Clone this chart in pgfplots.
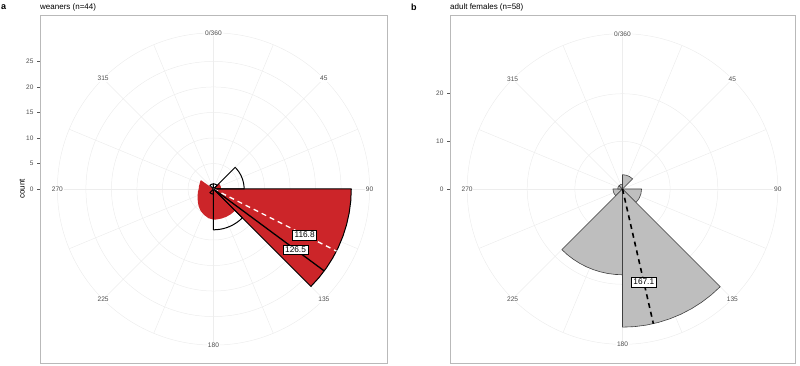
\documentclass[border=0pt]{standalone}
\usepackage{pgfplots}
\pgfplotsset{compat=1.18}
\usepackage{fontspec}
\setmainfont{Liberation Sans}
\definecolor{redfill}{HTML}{CC2529}
\definecolor{greyfill}{HTML}{BEBEBE}
\definecolor{gridc}{HTML}{EDEDED}
\definecolor{txtgrey}{HTML}{4D4D4D}

% polar sector: table of bearing (clockwise from north) and radius (count)
\newcommand\psect[2]{\addplot[#1] table[row sep=\\, x expr={\thisrow{r}*sin(\thisrow{b})}, y expr={\thisrow{r}*cos(\thisrow{b})}] {#2};}
\newcommand\thetalab[3]{\node[font=\fontsize{6.6}{7}\selectfont, text=txtgrey, fill=white, inner sep=0.8pt] at (axis cs:{#1*sin(#2)},{#1*cos(#2)}) {#3};}
\newcommand\meanlab[2]{\node[font=\fontsize{8.3}{9}\selectfont, draw=black, line width=0.4pt, fill=white, inner sep=2pt] at (axis cs:{20*sin(#1)},{20*cos(#1)}) {#2};}

\pgfplotsset{rosestyle/.style={
  scale only axis, anchor=south west,
  axis line style={draw=gray!55, line width=0.7pt},
  xtick=\empty, ytick pos=left, tick align=outside,
  major tick length=3pt,
  tick style={color=gray!70!black, line width=0.5pt},
  yticklabel style={font=\fontsize{6.5}{7}\selectfont, text=txtgrey},
  /pgf/number format/assume math mode=true,
  clip=false,
}}

\begin{document}
\begin{tikzpicture}
\useasboundingbox (0,0) rectangle (800pt,366pt);
\node[anchor=west, font=\bfseries\fontsize{9}{10}\selectfont, inner sep=0pt] at (1pt,359pt) {a};
\node[anchor=west, font=\bfseries\fontsize{9}{10}\selectfont, inner sep=0pt] at (411pt,359pt) {b};
\node[anchor=base west, font=\fontsize{8}{9}\selectfont, inner sep=0pt] at (40pt,356pt) {weaners (n=44)};
\node[anchor=base west, font=\fontsize{8}{9}\selectfont, inner sep=0pt] at (450pt,356pt) {adult females (n=58)};

% ---------------- panel a ----------------
\begin{axis}[rosestyle, at={(40pt,3pt)}, width=347pt, height=348pt,
  xmin=-34, xmax=34, ymin=-34.1, ymax=34.1,
  ytick={0,5,10,15,20,25},
  ylabel={count},
  ylabel style={at={(axis description cs:-0.052,0.5)}, anchor=center, font=\fontsize{8}{9}\selectfont},
]
\pgfplotsinvokeforeach{0,22.5,45,67.5,90,112.5,135,157.5,180,202.5,225,247.5,270,292.5,315,337.5}{
  \draw[gridc, line width=0.5pt] (axis cs:0,0) -- (axis cs:{30.6*sin(#1)},{30.6*cos(#1)});
}
\pgfplotsinvokeforeach{5,10,15,20,25,30.6}{
  \draw[gridc, line width=0.5pt] (axis cs:0,0) circle[radius=#1];
}
\thetalab{30.6}{0}{0/360}
\thetalab{30.6}{45}{45}
\thetalab{30.6}{90}{90}
\thetalab{30.6}{135}{135}
\thetalab{30.6}{180}{180}
\thetalab{30.6}{225}{225}
\thetalab{30.6}{270}{270}
\thetalab{30.6}{315}{315}

% red layer
\psect{fill=redfill, draw=none}{b r\\ 0 0\\ 90 27\\ 95 27\\ 100 27\\ 105 27\\ 110 27\\ 115 27\\ 120 27\\ 125 27\\ 130 27\\ 135 27\\ 0 0\\}
\psect{fill=redfill, draw=none}{b r\\ 0 0\\ 135 6\\ 145 6\\ 155 6\\ 165 6\\ 175 6\\ 180 6\\ 190 5.8\\ 200 5.4\\ 210 5.0\\ 220 4.5\\ 230 4.0\\ 240 3.6\\ 250 3.3\\ 260 3.1\\ 270 2.9\\ 280 2.9\\ 290 2.9\\ 300 3.0\\ 305 3.0\\ 0 0\\}
\psect{fill=redfill, draw=none}{b r\\ 0 0\\ 45 1.5\\ 60 1.5\\ 75 1.5\\ 90 1.5\\ 0 0\\}

% outlined layer (all weaners)
\psect{draw=black, fill=none, line width=1pt, line join=round}{b r\\ 0 0\\ 315 1\\ 330 1\\ 345 1\\ 360 1\\ 0 0\\}
\psect{draw=black, fill=none, line width=1pt, line join=round}{b r\\ 0 0\\ 0 1\\ 15 1\\ 30 1\\ 45 1\\ 0 0\\}
\psect{draw=black, fill=none, line width=1pt, line join=round}{b r\\ 0 0\\ 45 6\\ 50 6\\ 55 6\\ 60 6\\ 65 6\\ 70 6\\ 75 6\\ 80 6\\ 85 6\\ 90 6\\ 0 0\\}
\psect{draw=black, fill=none, line width=1pt, line join=round}{b r\\ 0 0\\ 90 27\\ 95 27\\ 100 27\\ 105 27\\ 110 27\\ 115 27\\ 120 27\\ 125 27\\ 130 27\\ 135 27\\ 0 0\\}
\psect{draw=black, fill=none, line width=1pt, line join=round}{b r\\ 0 0\\ 135 8\\ 140 8\\ 145 8\\ 150 8\\ 155 8\\ 160 8\\ 165 8\\ 170 8\\ 175 8\\ 180 8\\ 0 0\\}
\psect{draw=black, fill=none, line width=1pt, line join=round}{b r\\ 0 0\\ 180 1\\ 195 1\\ 210 1\\ 225 1\\ 0 0\\}

% mean directions
\psect{draw=white, line width=1.3pt, dash pattern=on 5pt off 4pt}{b r\\ 116.8 0\\ 116.8 27\\}
\psect{draw=black, line width=1.3pt}{b r\\ 126.5 0\\ 126.5 27\\}
\meanlab{116.8}{116.8}
\meanlab{126.5}{126.5}
\end{axis}

% ---------------- panel b ----------------
\begin{axis}[rosestyle, at={(450pt,3pt)}, width=345pt, height=348pt,
  xmin=-36.2, xmax=36.2, ymin=-36.52, ymax=36.52,
  ytick={0,10,20},
]
\pgfplotsinvokeforeach{0,22.5,45,67.5,90,112.5,135,157.5,180,202.5,225,247.5,270,292.5,315,337.5}{
  \draw[gridc, line width=0.5pt] (axis cs:0,0) -- (axis cs:{32.6*sin(#1)},{32.6*cos(#1)});
}
\pgfplotsinvokeforeach{10,20,32.6}{
  \draw[gridc, line width=0.5pt] (axis cs:0,0) circle[radius=#1];
}
\thetalab{32.6}{0}{0/360}
\thetalab{32.6}{45}{45}
\thetalab{32.6}{90}{90}
\thetalab{32.6}{135}{135}
\thetalab{32.6}{180}{180}
\thetalab{32.6}{225}{225}
\thetalab{32.6}{270}{270}
\thetalab{32.6}{315}{315}

\psect{fill=greyfill, draw=black!75, line width=0.6pt, line join=round}{b r\\ 0 0\\ 0 3\\ 15 3\\ 30 3\\ 45 3\\ 0 0\\}
\psect{fill=greyfill, draw=black!75, line width=0.6pt, line join=round}{b r\\ 0 0\\ 90 4\\ 105 4\\ 120 4\\ 135 4\\ 0 0\\}
\psect{fill=greyfill, draw=black!75, line width=0.6pt, line join=round}{b r\\ 0 0\\ 225 2\\ 240 2\\ 255 2\\ 270 2\\ 0 0\\}
\psect{fill=greyfill, draw=black!75, line width=0.6pt, line join=round}{b r\\ 0 0\\ 270 1\\ 285 1\\ 300 1\\ 315 1\\ 0 0\\}
\psect{fill=greyfill, draw=black!75, line width=0.6pt, line join=round}{b r\\ 0 0\\ 315 1\\ 330 1\\ 345 1\\ 360 1\\ 0 0\\}
\psect{fill=greyfill, draw=black!75, line width=0.6pt, line join=round}{b r\\ 0 0\\ 180 18\\ 185 18\\ 190 18\\ 195 18\\ 200 18\\ 205 18\\ 210 18\\ 215 18\\ 220 18\\ 225 18\\ 0 0\\}
\psect{fill=greyfill, draw=black!75, line width=0.6pt, line join=round}{b r\\ 0 0\\ 135 29\\ 140 29\\ 145 29\\ 150 29\\ 155 29\\ 160 29\\ 165 29\\ 170 29\\ 175 29\\ 180 29\\ 0 0\\}

\psect{draw=black, line width=1.6pt, dash pattern=on 5pt off 4pt}{b r\\ 167.1 0\\ 167.1 29\\}
\meanlab{167.1}{167.1}
\end{axis}
\end{tikzpicture}
\end{document}
